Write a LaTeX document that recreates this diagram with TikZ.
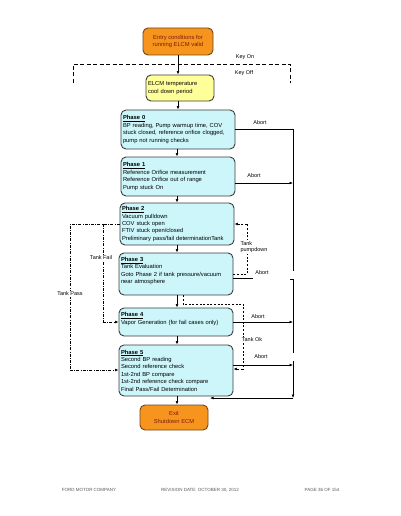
\documentclass[tikz,border=0pt]{standalone}
\usepackage{fontspec}
\setmainfont{Liberation Sans}
\usetikzlibrary{arrows.meta}
\definecolor{cyanfill}{RGB}{204,246,250}
\definecolor{boxline}{RGB}{60,60,60}
\definecolor{orangefill}{RGB}{247,148,30}
\definecolor{orangeline}{RGB}{110,70,25}
\definecolor{orangetext}{RGB}{120,30,10}
\definecolor{yellowfill}{RGB}{255,255,153}
\definecolor{footgray}{RGB}{90,90,90}
\begin{document}
\begin{tikzpicture}[x=1pt,y=-1pt,
  box/.style={draw=boxline, line width=0.9pt, rounded corners=5pt, inner sep=2pt, font=\fontsize{5.8}{7.4}\selectfont},
  phase/.style={box, fill=cyanfill, text width=110pt, align=left},
  orangebox/.style={box, draw=orangeline, fill=orangefill, text=orangetext, align=center},
  yellowbox/.style={box, fill=yellowfill, align=left},
  arr/.style={-{Latex[length=3.5pt,width=2.8pt]}, line width=0.6pt},
  ln/.style={line width=0.6pt},
  lab/.style={font=\fontsize{5.5}{6.6}\selectfont, inner sep=0.8pt},
  wlab/.style={lab, fill=white},
  keydash/.style={line width=0.9pt, dash pattern=on 4pt off 2.5pt},
  dsh/.style={line width=0.6pt, dash pattern=on 2pt off 1.6pt},
  dd/.style={line width=0.6pt, dash pattern=on 3pt off 1.4pt on 0.6pt off 1.4pt},
  foot/.style={font=\fontsize{4.5}{5}\selectfont, text=footgray, inner sep=0pt}]
\useasboundingbox (0,0) rectangle (400,516);

% boxes
\node[orangebox, minimum width=70pt, minimum height=27pt] (entry) at (178,41.5) {Entry conditions for\\running ELCM valid};
\node[yellowbox, text width=64pt, minimum height=26pt] (elcm) at (180,88) {ELCM temperature\\cool down period};
\node[phase, minimum height=39pt] (p0) at (178,129.5) {\underline{\textbf{Phase 0}}\\BP reading, Pump warmup time, COV\\stuck closed, reference orifice clogged,\\pump not running checks};
\node[phase, minimum height=39pt] (p1) at (178,176.5) {\underline{\textbf{Phase 1}}\\Reference Orifice measurement\\Reference Orifice out of range\\Pump stuck On};
\node[phase, minimum height=42pt] (p2) at (177,224) {\underline{\textbf{Phase 2}}\\Vacuum pulldown\\COV stuck open\\FTIV stuck open/closed\\Preliminary pass/fail determinationTank};
\node[phase, minimum height=42pt] (p3) at (176,274) {\underline{\textbf{Phase 3}}\\Tank Evaluation\\Goto Phase 2 if tank pressure/vacuum\\near atmosphere\\\mbox{}};
\node[phase, minimum height=28pt] (p4) at (176,322) {\underline{\textbf{Phase 4}}\\Vapor Generation (for fail cases only)\\\mbox{}};
\node[phase, minimum height=51pt] (p5) at (176,370.5) {\underline{\textbf{Phase 5}}\\Second BP reading\\Second reference check\\1st-2nd BP compare\\1st-2nd reference check compare\\Final Pass/Fail Determination};
\node[orangebox, minimum width=68pt, minimum height=25pt] (exit) at (174,417.5) {Exit\\Shutdown ECM};

% key on / key off
\coordinate (kl1) at (73,83);
\coordinate (kl0) at (73,64);
\coordinate (kr0) at (290,64);
\coordinate (kr1) at (290,83);
\draw[keydash] (kl1) -- (kl0) -- (kr0) -- (kr1);
\node[lab] (keyon) at (245,57) {Key On};
\node[lab] (keyoff) at (244,73) {Key Off};

% main flow
\draw[arr] (entry.south) -- (entry.south |- elcm.north);
\draw[arr] (p0.north |- elcm.south) -- (p0.north);
\draw[arr] (p0.south -| p2.north) -- (p1.north -| p2.north);
\draw[arr] (p1.south -| p2.north) -- (p2.north);
\draw[arr] (p2.south) -- (p2.south |- p3.north);
\draw[arr] (p3.south -| p2.south) -- (p4.north -| p2.south);
\draw[arr] (p4.south -| p2.south) -- (p5.north -| p2.south);
\draw[arr] (p5.south -| p2.south) -- (exit.north -| p2.south);

% abort lines
\coordinate (ra) at (293,271);
\coordinate (rb0) at (290,279);
\coordinate (rb1) at (293,279);
\coordinate (rb2) at (293,353);
\coordinate (rc0) at (293,361);
\coordinate (rc1) at (293,398);
\coordinate (rc2) at (210,398);
\coordinate (p3ab) at (253,278);
\draw[ln] (p0.east) -- (p0.east -| ra) -- (ra);
\draw[arr] ([yshift=-6.5pt]p1.east) -- ([yshift=-6.5pt]p1.east -| ra);
\draw[ln] ([yshift=-4pt]p3.east) -- (p3ab);
\draw[ln] (rb0) -- (rb1) -- (rb2);
\draw[arr] (p4.east) -- (p4.east -| ra);
\draw[arr] ([yshift=5.5pt]p5.east) -- ([yshift=5.5pt]p5.east -| ra);
\draw[arr] (rc0) -- (rc1);
\draw[arr] (rc1) -- (rc2);
\node[lab] (ab0) at (260,123) {Abort};
\node[lab] (ab1) at (254,176) {Abort};
\node[lab] (ab3) at (262,273) {Abort};
\node[lab] (ab4) at (258,317) {Abort};
\node[lab] (ab5) at (261,357) {Abort};

% tank pumpdown
\coordinate (tp0) at (247,274);
\coordinate (tp1) at (247,224);
\draw[dsh] (p3.east) -- (tp0) -- (tp1);
\draw[dsh, arr] (tp1) -- (p2.east);
\node[wlab, align=left] (tpd) at (254,247) {Tank\\pumpdown};

% tank ok
\coordinate (to0) at (183,304);
\coordinate (to1) at (243,304);
\coordinate (to2) at (243,369);
\draw[dsh] (p3.south -| to0) -- (to0) -- (to1) -- (to2);
\draw[dsh, arr] (to2) -- (to2 -| p5.east);
\node[wlab] (tok) at (252,340) {Tank Ok};

% tank fail / tank pass
\coordinate (tf0) at (103,224);
\coordinate (tf1) at (103,322);
\coordinate (tpa0) at (70,224);
\coordinate (tpa1) at (70,370);
\draw[dd] (p2.west) -- (tpa0) -- (tpa1);
\draw[dd, arr] (tpa1) -- (tpa1 -| p5.west);
\draw[dd] (tf0) -- (tf1);
\draw[dd, arr] (tf1) -- (p4.west);
\node[wlab] (tfail) at (101,258) {Tank Fail};
\node[wlab] (tpass) at (70,294) {Tank Pass};

% footer
\node[foot] (f1) at (89,490) {FORD MOTOR COMPANY};
\node[foot] (f2) at (200,490) {REVISION DATE: OCTOBER 30, 2012};
\node[foot] (f3) at (322,490) {PAGE 36 OF 154};
\end{tikzpicture}
\end{document}
